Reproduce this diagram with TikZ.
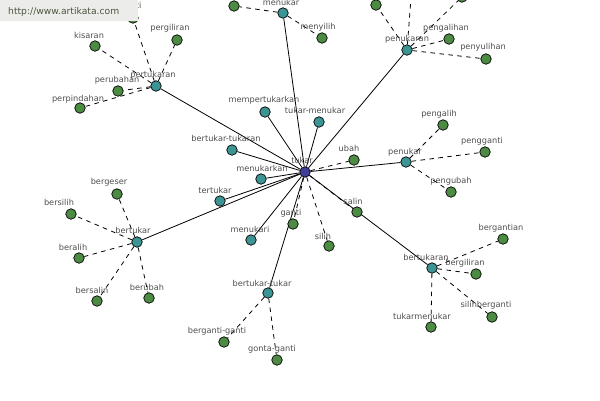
\documentclass[tikz,border=0pt]{standalone}
\usepackage{fontspec}
\setmainfont{DejaVu Sans}
\definecolor{hubblue}{RGB}{62,62,150}
\definecolor{tealc}{RGB}{60,148,148}
\definecolor{leafg}{RGB}{76,140,66}
\definecolor{lblgray}{RGB}{78,78,78}
\definecolor{urlfill}{RGB}{236,236,234}
\definecolor{urltxt}{RGB}{74,86,62}
\pgfdeclarelayer{bg}
\pgfdeclarelayer{edges}
\pgfdeclarelayer{top}
\pgfsetlayers{bg,edges,main,top}
\newcommand\wvtx[5]{\node[#2] (#1) at (#3) {};\node[lbl] (#1-l) at (#4) {#5};}
\begin{document}
\begin{tikzpicture}[x=1pt,y=-1pt,
  vtx/.style={circle,draw=black,line width=0.7pt,minimum size=10.5pt,inner sep=0pt},
  hub/.style={vtx,fill=hubblue},
  mid/.style={vtx,fill=tealc},
  leaf/.style={vtx,fill=leafg},
  lbl/.style={font=\fontsize{8.2}{9}\selectfont,text=lblgray,inner sep=0pt},
  sol/.style={draw=black,line width=0.8pt},
  dsh/.style={draw=black,line width=0.8pt,dash pattern=on 4.5pt off 4.5pt},
  urlbox/.style={fill=urlfill,draw=none,anchor=north west,minimum width=138pt,minimum height=21pt,inner sep=0pt},
  urlt/.style={font=\fontsize{9.2}{10}\selectfont,text=urltxt,anchor=west,inner sep=0pt}]
\useasboundingbox (0,0) rectangle (600,400);
\begin{pgfonlayer}{bg}
\fill[white] (0,0) rectangle (600,400);
\end{pgfonlayer}
\clip (0,0) rectangle (600,400);
% hub and middle nodes
\wvtx{tukar}{hub}{305,172}{302,160}{tukar}
\wvtx{pertukaran}{mid}{156,86}{153,75}{pertukaran}
\wvtx{menukar}{mid}{283,13}{281,2}{menukar}
\wvtx{penukaran}{mid}{407,50}{407,39}{penukaran}
\wvtx{mempertukarkan}{mid}{265,112}{264,100}{mempertukarkan}
\wvtx{tukarmenukar}{mid}{319,122}{315,110}{tukar-menukar}
\wvtx{bertukartukaran}{mid}{232,150}{226,138}{bertukar-tukaran}
\wvtx{menukarkan}{mid}{261,179}{262,168}{menukarkan}
\wvtx{tertukar}{mid}{220,201}{215,190}{tertukar}
\wvtx{bertukar}{mid}{137,242}{133,230}{bertukar}
\wvtx{menukari}{mid}{251,240}{250,229}{menukari}
\wvtx{bertukartukar}{mid}{268,293}{262,283}{bertukar-tukar}
\wvtx{penukar}{mid}{406,162}{405,152}{penukar}
\wvtx{bertukaran}{mid}{432,268}{426,257}{bertukaran}
% leaves of tukar
\wvtx{ubah}{leaf}{354,160}{349,148}{ubah}
\wvtx{ganti}{leaf}{293,224}{291,213}{ganti}
\wvtx{silih}{leaf}{329,246}{323,236}{silih}
\wvtx{salin}{leaf}{357,212}{353,201}{salin}
% leaves of pertukaran
\wvtx{kisaran}{leaf}{95,46}{89,35}{kisaran}
\wvtx{pergiliran}{leaf}{177,40}{170,28}{pergiliran}
\wvtx{perubahan}{leaf}{118,91}{117,80}{perubahan}
\wvtx{perpindahan}{leaf}{80,108}{78,99}{perpindahan}
\node[leaf] (berganti) at (133,18) {};
\node[lbl,anchor=east] (berganti-l) at (141.5,6) {ganti};
% leaves of menukar
\node[leaf] (mkA) at (234,6) {};
\wvtx{menyilih}{leaf}{322,38}{318,27}{menyilih}
% leaves of penukaran
\node[leaf] (pnA) at (376,5) {};
\node[leaf] (pnB) at (412,-15) {};
\node[leaf] (pnC) at (462,-3) {};
\wvtx{pengalihan}{leaf}{449,39}{446,28}{pengalihan}
\wvtx{penyulihan}{leaf}{486,59}{483,47}{penyulihan}
% leaves of penukar
\wvtx{pengalih}{leaf}{443,125}{439,114}{pengalih}
\wvtx{pengganti}{leaf}{485,152}{482,141}{pengganti}
\wvtx{pengubah}{leaf}{451,192}{451,181}{pengubah}
% leaves of bertukaran
\wvtx{bergantian}{leaf}{503,239}{501,228}{bergantian}
\wvtx{bergiliran}{leaf}{476,274}{465,263}{bergiliran}
\wvtx{silihberganti}{leaf}{492,317}{486,305}{silihberganti}
\wvtx{tukarmenukarL}{leaf}{431,327}{422,316}{tukarmenukar}
% leaves of bertukar
\wvtx{bergeser}{leaf}{117,194}{109,182}{bergeser}
\wvtx{bersilih}{leaf}{71,214}{59,202}{bersilih}
\wvtx{beralih}{leaf}{79,258}{73,247}{beralih}
\wvtx{bersalin}{leaf}{97,301}{92,290}{bersalin}
\wvtx{berubah}{leaf}{149,298}{147,287}{berubah}
% leaves of bertukar-tukar
\wvtx{bergantiganti}{leaf}{224,342}{217,331}{berganti-ganti}
\wvtx{gontaganti}{leaf}{277,360}{272,349}{gonta-ganti}
% edges
\begin{pgfonlayer}{edges}
\clip (0,0) rectangle (600,400);
\foreach \m in {pertukaran,menukar,penukaran,mempertukarkan,tukarmenukar,bertukartukaran,menukarkan,tertukar,bertukar,menukari,bertukartukar,penukar,bertukaran}
  \draw[sol] (tukar) -- (\m);
\foreach \m in {ubah,ganti,silih,salin} \draw[dsh] (tukar) -- (\m);
\foreach \m in {kisaran,pergiliran,perubahan,perpindahan,berganti} \draw[dsh] (pertukaran) -- (\m);
\foreach \m in {mkA,menyilih} \draw[dsh] (menukar) -- (\m);
\foreach \m in {pnA,pnB,pnC,pengalihan,penyulihan} \draw[dsh] (penukaran) -- (\m);
\foreach \m in {pengalih,pengganti,pengubah} \draw[dsh] (penukar) -- (\m);
\foreach \m in {bergantian,bergiliran,silihberganti,tukarmenukarL} \draw[dsh] (bertukaran) -- (\m);
\foreach \m in {bergeser,bersilih,beralih,bersalin,berubah} \draw[dsh] (bertukar) -- (\m);
\foreach \m in {bergantiganti,gontaganti} \draw[dsh] (bertukartukar) -- (\m);
\end{pgfonlayer}
% url box
\begin{pgfonlayer}{top}
\node[urlbox] (urlb) at (0,0) {};
\node[urlt] (urltext) at (8,12) {http://www.artikata.com};
\end{pgfonlayer}
\end{tikzpicture}
\end{document}
